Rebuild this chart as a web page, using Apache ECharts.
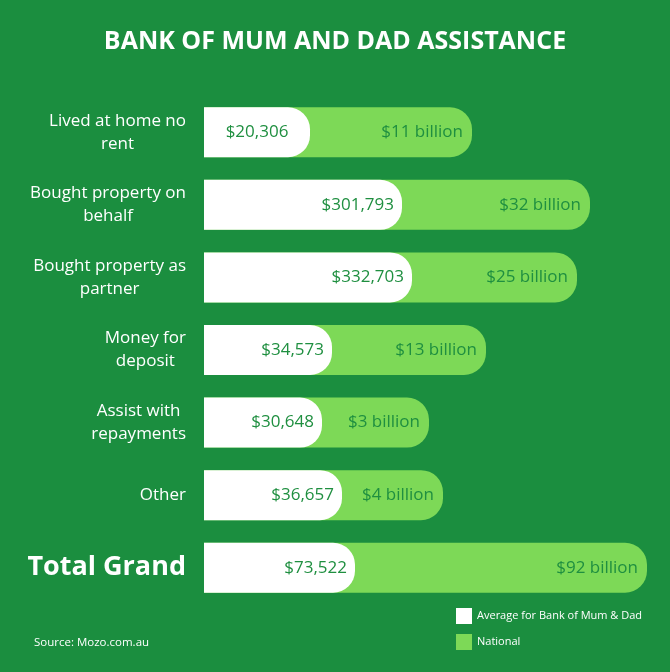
<!DOCTYPE html>
<html>
<head>
<meta charset="utf-8">
<script src="https://cdn.jsdelivr.net/npm/echarts@6/dist/echarts.min.js"></script>
<style>
  html, body { margin: 0; padding: 0; background: #1b8e3f; }
  #chart { width: 670px; height: 672px; }
</style>
</head>
<body>
<div id="chart"></div>
<script>
// 分类
var categories = ['Lived at home no\nrent', 'Bought property on\nbehalf', 'Bought property as\npartner',
  'Money for\ndeposit', 'Assist with\nrepayments', 'Other', 'Total Grand']
// 标签上的金额
var avgAmount = [20306, 301793, 332703, 34573, 30648, 36657, 73522]
var natBillion = [11, 32, 25, 13, 3, 4, 92]
// 图中条形的长度（原图不按比例，按画面读取）
var avgLength = [106, 198, 208, 128, 118, 138, 151]
var natLength = [268, 386, 373, 282, 225, 239, 443]

var mychart = echarts.init(document.getElementById('chart'))

var textColor = '#1f8f40'
var font = '"Open Sans", sans-serif'

var option = {
  backgroundColor: '#1b8e3f',
  textStyle: { fontFamily: font },
  title: [
    {
      text: 'BANK OF MUM AND DAD ASSISTANCE',
      left: 'center',
      top: 24,
      textStyle: { color: '#fff', fontSize: 25, fontWeight: 'bold', fontFamily: font }
    },
    {
      text: 'Source: Mozo.com.au',
      left: 29,
      top: 632,
      textStyle: { color: '#fff', fontSize: 11.5, fontWeight: 'normal', fontFamily: font }
    }
  ],
  legend: {
    orient: 'vertical',
    left: 451,
    top: 603,
    itemWidth: 16,
    itemHeight: 16,
    itemGap: 10,
    icon: 'rect',
    data: ['Average for Bank of Mum & Dad', 'National'],
    textStyle: { color: '#fff', fontSize: 11, fontFamily: font }
  },
  grid: {
    left: 204,
    right: 0,
    top: 96,
    bottom: 68
  },
  xAxis: {
    type: 'value',
    min: 0,
    max: 466,
    show: false
  },
  yAxis: {
    type: 'category',
    inverse: true,
    data: categories,
    axisLine: { show: false },
    axisTick: { show: false },
    axisLabel: {
      align: 'right',
      margin: 18,
      formatter: function (value, idx) {
        var key = idx === categories.length - 1 ? 't' : 'c'
        return value.split('\n').map(function (s) {
          return '{' + key + '|' + s + '}'
        }).join('\n')
      },
      rich: {
        c: { align: 'center', color: '#fff', fontSize: 17, lineHeight: 23, fontFamily: font },
        t: { align: 'center', color: '#fff', fontSize: 27, fontWeight: 'bold', lineHeight: 34, fontFamily: font }
      }
    }
  },
  series: [
    {
      name: 'National',
      type: 'bar',
      barWidth: 50,
      z: 2,
      itemStyle: { color: '#7dd957', borderRadius: [0, 22, 22, 0] },
      label: {
        show: true,
        position: 'insideRight',
        distance: 9,
        color: textColor,
        fontSize: 17,
        fontFamily: font,
        formatter: function (p) {
          return '$' + natBillion[p.dataIndex] + ' billion'
        }
      },
      data: natLength
    },
    {
      name: 'Average for Bank of Mum & Dad',
      type: 'bar',
      barWidth: 50,
      barGap: '-100%',
      z: 3,
      itemStyle: { color: '#ffffff', borderRadius: [0, 22, 22, 0] },
      label: {
        show: true,
        position: 'insideRight',
        distance: 8,
        color: textColor,
        fontSize: 17,
        fontFamily: font,
        formatter: function (p) {
          return '$' + avgAmount[p.dataIndex].toLocaleString('en-US')
        }
      },
      data: avgLength.map(function (v, i) {
        // 第一项标签放在中间
        return i === 0 ? { value: v, label: { position: 'inside' } } : v
      })
    }
  ]
}

mychart.setOption(option)
</script>
</body>
</html>
